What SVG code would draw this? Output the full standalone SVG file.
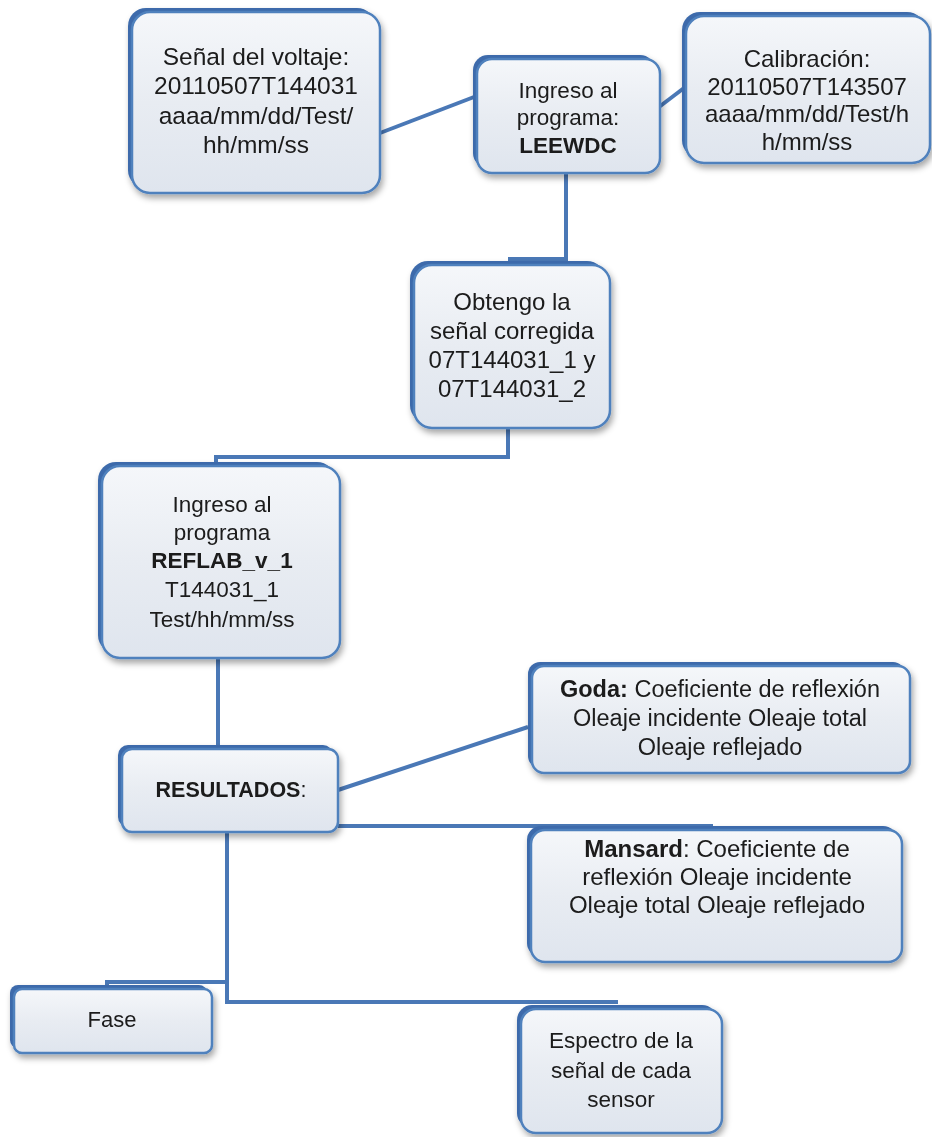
<svg xmlns="http://www.w3.org/2000/svg" width="932" height="1137" viewBox="0 0 932 1137">
<defs>
<linearGradient id="fillg" x1="0" y1="0" x2="0" y2="1">
<stop offset="0" stop-color="#f5f7fa"/>
<stop offset="0.5" stop-color="#e8ecf2"/>
<stop offset="1" stop-color="#dfe5ee"/>
</linearGradient>
<filter id="sh" x="-10%" y="-10%" width="130%" height="130%">
<feDropShadow dx="2" dy="4" stdDeviation="3" flood-color="#000" flood-opacity="0.35"/>
</filter>
</defs>
<style>
.bev{fill:#3d6bab;}
.box{fill:url(#fillg);stroke:#4f81bd;stroke-width:2.5;}
.con{fill:none;stroke:#4a78b6;stroke-width:4;stroke-linejoin:miter;}
.t{font-family:"Liberation Sans",Arial,sans-serif;fill:#1a1a1a;text-anchor:middle;}
.b{font-weight:bold;}
</style>
<g id="connectors">
<path class="con" d="M380,133 L474,97"/>
<path class="con" d="M659,107 L684,88"/>
<path class="con" d="M566,172 V259 H508"/>
<path class="con" d="M508,428 V457 H216 V463"/>
<path class="con" d="M218,658 V745"/>
<path class="con" d="M338,790 L528,727"/>
<path class="con" d="M338,826 H713"/>
<path class="con" d="M227,832 V1002 H618"/>
<path class="con" d="M227,982 H107 V986"/>
</g>
<g id="n1" filter="url(#sh)">
<rect class="bev" x="128" y="8" width="247" height="180" rx="18"/>
<rect class="box" x="132" y="12" width="248" height="181" rx="18"/>
<text class="t" font-size="24.5"><tspan x="256" y="65">Señal del voltaje:</tspan><tspan x="256" y="94">20110507T144031</tspan><tspan x="256" y="124">aaaa/mm/dd/Test/</tspan><tspan x="256" y="153">hh/mm/ss</tspan></text>
</g>
<g id="n2" filter="url(#sh)">
<rect class="bev" x="473" y="55" width="182" height="113" rx="15"/>
<rect class="box" x="477" y="59" width="183" height="114" rx="15"/>
<text class="t" font-size="22.5"><tspan x="568" y="98">Ingreso al</tspan><tspan x="568" y="125">programa:</tspan><tspan class="b" x="568" y="153">LEEWDC</tspan></text>
</g>
<g id="n3" filter="url(#sh)">
<rect class="bev" x="682" y="12" width="243" height="146" rx="18"/>
<rect class="box" x="686" y="16" width="244" height="147" rx="18"/>
<text class="t" font-size="24"><tspan x="807" y="67">Calibración:</tspan><tspan x="807" y="94.5">20110507T143507</tspan><tspan x="807" y="122">aaaa/mm/dd/Test/h</tspan><tspan x="807" y="149.5">h/mm/ss</tspan></text>
</g>
<g id="n4" filter="url(#sh)">
<rect class="bev" x="410" y="261" width="195" height="162" rx="18"/>
<rect class="box" x="414" y="265" width="196" height="163" rx="18"/>
<text class="t" font-size="24"><tspan x="512" y="310">Obtengo la</tspan><tspan x="512" y="339">señal corregida</tspan><tspan x="512" y="368">07T144031_1 y</tspan><tspan x="512" y="397">07T144031_2</tspan></text>
</g>
<g id="n5" filter="url(#sh)">
<rect class="bev" x="98" y="462" width="237" height="191" rx="18"/>
<rect class="box" x="102" y="466" width="238" height="192" rx="18"/>
<text class="t" font-size="22.5"><tspan x="222" y="512">Ingreso al</tspan><tspan x="222" y="540">programa</tspan><tspan class="b" x="222" y="568">REFLAB_v_1</tspan><tspan x="222" y="597">T144031_1</tspan><tspan x="222" y="627">Test/hh/mm/ss</tspan></text>
</g>
<g id="n6" filter="url(#sh)">
<rect class="bev" x="118" y="745" width="215" height="82" rx="10"/>
<rect class="box" x="122" y="749" width="216" height="83" rx="10"/>
<text class="t" font-size="21.5" x="231" y="797"><tspan class="b">RESULTADOS</tspan>:</text>
</g>
<g id="n7" filter="url(#sh)">
<rect class="bev" x="528" y="662" width="377" height="106" rx="12"/>
<rect class="box" x="532" y="666" width="378" height="107" rx="12"/>
<text class="t" font-size="23.5"><tspan x="720" y="697"><tspan class="b">Goda:</tspan> Coeficiente de reflexión</tspan><tspan x="720" y="726">Oleaje incidente Oleaje total</tspan><tspan x="720" y="755">Oleaje reflejado</tspan></text>
</g>
<g id="n8" filter="url(#sh)">
<rect class="bev" x="527" y="826" width="370" height="131" rx="14"/>
<rect class="box" x="531" y="830" width="371" height="132" rx="14"/>
<text class="t" font-size="24"><tspan x="717" y="857"><tspan class="b">Mansard</tspan>: Coeficiente de</tspan><tspan x="717" y="885">reflexión Oleaje incidente</tspan><tspan x="717" y="913">Oleaje total Oleaje reflejado</tspan></text>
</g>
<g id="n9" filter="url(#sh)">
<rect class="bev" x="10" y="985" width="197" height="63" rx="8"/>
<rect class="box" x="14" y="989" width="198" height="64" rx="8"/>
<text class="t" font-size="22" x="112" y="1027">Fase</text>
</g>
<g id="n10" filter="url(#sh)">
<rect class="bev" x="517" y="1005" width="200" height="123" rx="15"/>
<rect class="box" x="521" y="1009" width="201" height="124" rx="15"/>
<text class="t" font-size="22.5"><tspan x="621" y="1048">Espectro de la</tspan><tspan x="621" y="1078">señal de cada</tspan><tspan x="621" y="1107">sensor</tspan></text>
</g>
</svg>
